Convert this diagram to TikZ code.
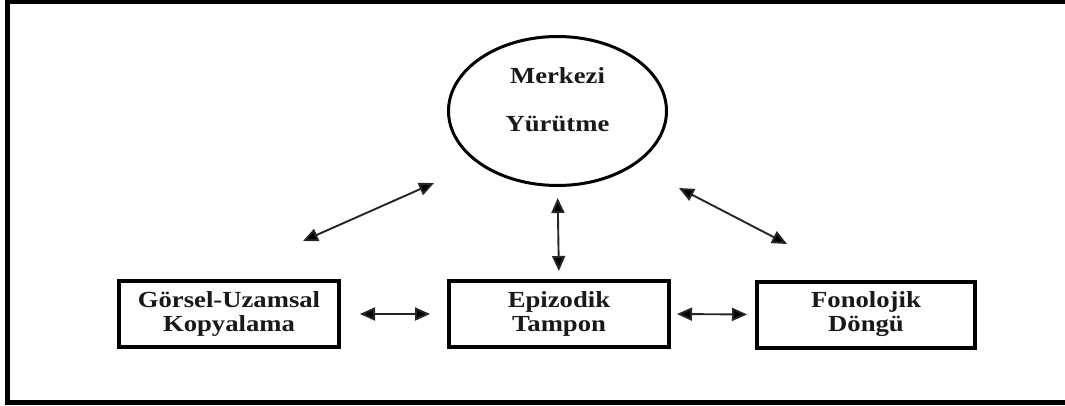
\documentclass[tikz,border=0pt]{standalone}
\usepackage{fontspec}
\setmainfont{Liberation Serif}[FakeStretch=1.16]
\usetikzlibrary{arrows.meta,shapes.geometric}
\begin{document}
\begin{tikzpicture}[x=1pt,y=-1pt,
  box/.style={draw, line width=4pt, minimum width=220pt, minimum height=66pt, inner sep=0pt,
    font=\bfseries\fontsize{23}{24}\selectfont, align=center, text=black!90},
  link/.style={line width=1.9pt, draw=black!85,
    {Triangle[length=15pt,width=13pt,fill=black]}-{Triangle[length=15pt,width=13pt,fill=black]}}]
\clip (0,0) rectangle (1065,405);
\fill[white] (0,0) rectangle (1065,405);
% frame
\draw[line width=4.5pt] (1080,2) -- (7.5,2) -- (7.5,402.5) -- (1080,402.5);
% central executive
\node[ellipse, draw, line width=3pt, minimum width=218pt, minimum height=149pt, inner sep=0pt] (cm) at (557.5,111) {};
\node[font=\bfseries\fontsize{23}{48}\selectfont, align=center, text=black!90] (cmt) at (557.5,100) {Merkezi\\Yürütme};
% boxes
\node[box] (g) at (229,314) {Görsel-Uzamsal\\Kopyalama};
\node[box] (e) at (559,314) {Epizodik\\Tampon};
\node[box, minimum width=218pt] (f) at (866,314.5) {Fonolojik\\Döngü};
% arrows
\coordinate (a1) at (303,241);
\coordinate (a2) at (434,183);
\coordinate (b1) at (679,188);
\coordinate (b2) at (787,244);
\draw[link] (a1) -- (a2);
\draw[link] (b1) -- (b2);
\draw[link, shorten <=8pt, shorten >=11pt] (e.north) -- (cm.south);
\draw[link, shorten <=19pt, shorten >=17pt] (g.east) -- (e.west);
\draw[link, shorten <=6pt, shorten >=8pt] (e.east) -- (f.west);
\end{tikzpicture}
\end{document}
